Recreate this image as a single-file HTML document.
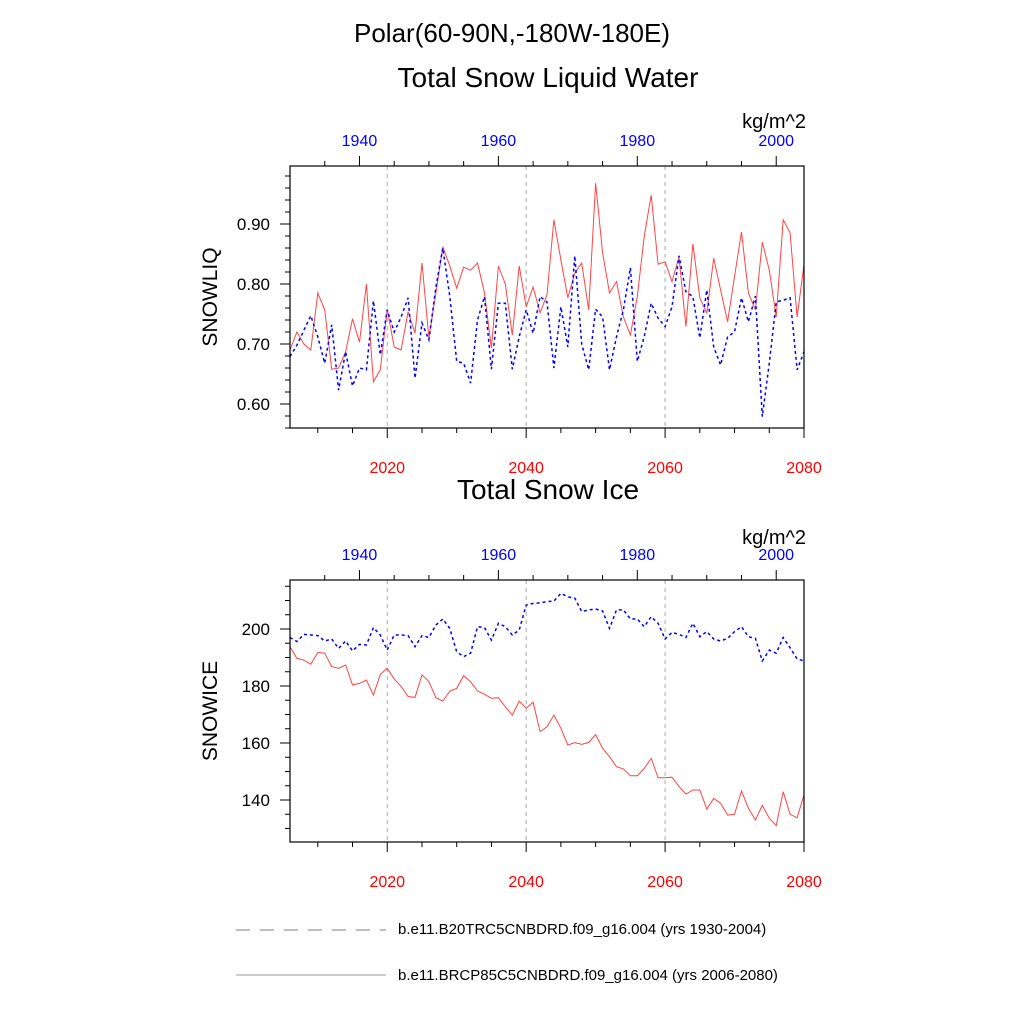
<!DOCTYPE html>
<html><head><meta charset="utf-8"><style>
body{margin:0;background:#fff}
svg{display:block;font-family:"Liberation Sans",sans-serif}
</style></head><body>
<svg id="c" width="1024" height="1024" viewBox="0 0 1024 1024">
<text x="512" y="42" font-size="26" text-anchor="middle">Polar(60-90N,-180W-180E)</text>
<text x="548" y="87" font-size="28" text-anchor="middle">Total Snow Liquid Water</text>
<text x="806" y="128" font-size="20" text-anchor="end">kg/m^2</text>
<text x="548" y="499" font-size="28" text-anchor="middle">Total Snow Ice</text>
<text x="806" y="544" font-size="20" text-anchor="end">kg/m^2</text>
<text transform="translate(217,297) rotate(-90)" font-size="21" text-anchor="middle">SNOWLIQ</text>
<text transform="translate(217,711) rotate(-90)" font-size="21" text-anchor="middle">SNOWICE</text>
<g>
<line x1="236" y1="930" x2="386" y2="930" stroke="#000" stroke-width="0.6" stroke-dasharray="14,10"/>
<text x="398" y="934" font-size="15">b.e11.B20TRC5CNBDRD.f09_g16.004 (yrs 1930-2004)</text>
<line x1="236" y1="975" x2="386" y2="975" stroke="#000" stroke-width="0.4"/>
<text x="398" y="980" font-size="15">b.e11.BRCP85C5CNBDRD.f09_g16.004 (yrs 2006-2080)</text>
</g>
</svg>
<script>
const redYears=[2006,2080];
const blueYears=[1930,2004];
const liqRed=[0.69,0.72,0.70,0.69,0.785,0.757,0.658,0.66,0.687,0.742,0.703,0.80,0.637,0.657,0.758,0.695,0.69,0.754,0.718,0.835,0.71,0.785,0.862,0.83,0.793,0.828,0.823,0.835,0.785,0.693,0.83,0.80,0.715,0.83,0.762,0.795,0.752,0.782,0.907,0.84,0.777,0.818,0.835,0.757,0.968,0.852,0.785,0.804,0.745,0.715,0.779,0.879,0.948,0.833,0.837,0.804,0.845,0.729,0.867,0.777,0.752,0.843,0.79,0.737,0.812,0.887,0.785,0.757,0.87,0.823,0.745,0.907,0.885,0.745,0.832];
const liqBlue=[0.679,0.698,0.723,0.747,0.712,0.668,0.732,0.623,0.687,0.63,0.66,0.657,0.772,0.682,0.757,0.72,0.745,0.777,0.643,0.735,0.707,0.795,0.86,0.779,0.671,0.668,0.635,0.74,0.779,0.658,0.768,0.768,0.658,0.712,0.757,0.718,0.779,0.77,0.66,0.762,0.695,0.847,0.70,0.657,0.758,0.745,0.657,0.712,0.757,0.827,0.671,0.712,0.768,0.743,0.729,0.762,0.847,0.787,0.779,0.71,0.79,0.695,0.665,0.712,0.72,0.777,0.737,0.78,0.579,0.668,0.77,0.773,0.777,0.657,0.687];
const iceRed=[193.8,189.7,189.1,187.6,191.8,191.5,186.8,186.2,187.4,180.4,180.9,182.1,176.8,184.1,186.2,182.5,179.8,176.3,176.0,183.9,181.5,175.9,174.7,178.2,179.2,183.6,181.5,178.2,177.1,175.7,175.9,172.7,169.8,174.7,172.2,174.3,164.0,165.7,169.8,165.2,159.3,160.1,159.5,160.2,163.0,158.1,155.2,151.7,150.9,148.5,148.5,151.1,154.6,147.8,147.8,148.0,144.7,142.1,143.5,143.5,136.8,140.6,138.8,134.7,135.0,143.2,137.1,133.0,138.1,133.6,131.0,142.9,135.0,133.8,141.8];
const iceBlue=[197.0,195.6,198.1,197.9,197.7,195.8,196.5,193.2,195.8,192.3,194.6,194.4,200.5,197.9,192.6,197.9,197.9,197.7,193.8,197.7,197.0,201.4,203.5,200.2,192.0,190.3,191.5,200.8,200.5,196.1,202.0,200.8,197.9,199.6,208.4,209.0,209.2,209.6,209.8,212.5,211.3,210.8,206.1,206.7,207.0,206.3,200.2,206.7,206.7,203.5,203.5,200.8,204.3,202.0,196.5,198.8,198.1,197.0,202.0,197.3,199.1,196.5,195.8,196.7,199.1,200.8,197.3,196.7,188.8,192.6,191.5,197.0,193.4,189.5,188.8];
const redTicks=[2020,2040,2060,2080];
const blueTicks=[1940,1960,1980,2000];
const liqTicks=[0.6,0.7,0.8,0.9];
const iceTicks=[140,160,180,200];

const NS='http://www.w3.org/2000/svg';
const svg=document.getElementById('c');
function mk(tag,attrs,parent){const e=document.createElementNS(NS,tag);for(const k in attrs)e.setAttribute(k,attrs[k]);(parent||svg).appendChild(e);return e;}
const X0=290,X1=804;
function xRed(yr){return X0+(yr-redYears[0])*(X1-X0)/(redYears[1]-redYears[0]);}
function xBlue(yr){return X0+(yr-blueYears[0])*(X1-X0)/(blueYears[1]-blueYears[0]);}

function panel(name,top,bot,yScale,yTicks,minorStep,yMinV,yMaxV,fmt,red,blue){
  const g=mk('g',{});
  
  
  [2020,2040,2060].forEach(yr=>{
    const l=mk('line',{x1:xRed(yr),x2:xRed(yr),y1:top,y2:bot,stroke:'#aaa','stroke-width':1,'stroke-dasharray':'4,4'},g);
    
    
  });
  for(let v=yMinV;v<=yMaxV+1e-9;v+=minorStep){
    const y=yScale(v); if(y<top-0.5||y>bot+0.5)continue;
    const major=yTicks.some(t=>Math.abs(t-v)<minorStep/3);
    const t=mk('line',{x1:X0-(major?10:5),x2:X0,y1:y,y2:y,stroke:'#000','stroke-width':1},g);
    
    
  }
  yTicks.forEach(v=>{
    const t=mk('text',{x:270,y:yScale(v)+6,'font-size':17,'text-anchor':'end'},g);
    t.textContent=fmt(v);
    
    
  });
  for(let yr=2010;yr<=2080;yr+=5){
    const x=xRed(yr),major=yr%20==0;
    const t=mk('line',{x1:x,x2:x,y1:bot,y2:bot+(major?10:5),stroke:'#000','stroke-width':1},g);
    
    
  }
  redTicks.forEach(yr=>{
    const t=mk('text',{x:xRed(yr),y:bot+45,'font-size':16,'text-anchor':'middle',fill:'#f00'},g);
    t.textContent=yr;
    
    
  });
  for(let yr=1935;yr<=2000;yr+=5){
    const x=xBlue(yr),major=yr%20==0;
    const t=mk('line',{x1:x,x2:x,y1:top,y2:top-(major?10:5),stroke:'#000','stroke-width':1},g);
    
    
  }
  blueTicks.forEach(yr=>{
    const t=mk('text',{x:xBlue(yr),y:top-20,'font-size':16,'text-anchor':'middle',fill:'#00f'},g);
    t.textContent=yr;
    
    
  });
  const pr=red.map((v,i)=>xRed(redYears[0]+i).toFixed(1)+','+yScale(v).toFixed(1)).join(' ');
  const r=mk('polyline',{points:pr,fill:'none',stroke:'#f44','stroke-width':1},g);
  
  
  const pb=blue.map((v,i)=>xBlue(blueYears[0]+i).toFixed(1)+','+yScale(v).toFixed(1)).join(' ');
  const b=mk('polyline',{points:pb,fill:'none',stroke:'#00f','stroke-width':1.5,'stroke-dasharray':'3,3'},g);
  
  
  const box=mk('rect',{x:X0,y:top,width:X1-X0,height:bot-top,fill:'none',stroke:'#000','stroke-width':1.2},g);
  
  
}
panel('snowliq',166,428,v=>224+(0.9-v)*600,liqTicks,0.02,0.56,1.0,v=>v.toFixed(2),liqRed,liqBlue);
panel('snowice',580,842,v=>629+(200-v)*2.85,iceTicks,5,125,220,v=>String(v),iceRed,iceBlue);
</script>
</body></html>
